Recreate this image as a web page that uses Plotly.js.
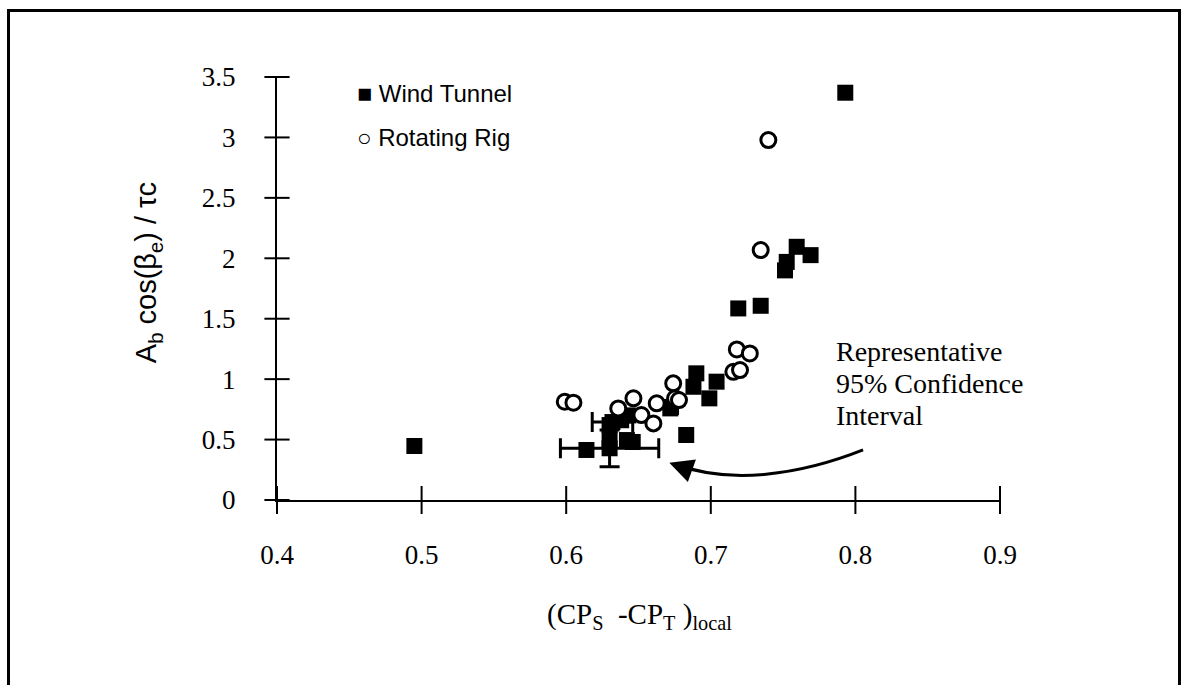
<!DOCTYPE html>
<html><head><meta charset="utf-8">
<script src="https://cdn.plot.ly/plotly-3.0.1.min.js"></script>
<style>
html,body{margin:0;padding:0;background:#fff;}
#wrap{position:relative;width:1186px;height:685px;}
#chart{width:1186px;height:685px;}
#frame{position:absolute;left:7px;top:9px;width:1168px;height:700px;border-left:3px solid #000;border-top:3px solid #000;border-right:3px solid #000;pointer-events:none;}
</style></head>
<body><div id="wrap"><div id="chart"></div><div id="frame"></div></div>
<script>
// Wind Tunnel series
const windX = [0.495, 0.614, 0.630, 0.630, 0.638, 0.643, 0.642, 0.646, 0.672, 0.6725, 0.683, 0.688, 0.690, 0.699, 0.704, 0.719, 0.7345, 0.7513, 0.7525, 0.7594, 0.769, 0.793];
const windY = [0.447, 0.414, 0.620, 0.500, 0.660, 0.700, 0.496, 0.480, 0.758, 0.770, 0.538, 0.937, 1.048, 0.841, 0.979, 1.585, 1.607, 1.900, 1.970, 2.095, 2.026, 3.370];
// Rotating Rig series
const rigX = [0.599, 0.605, 0.636, 0.6465, 0.652, 0.6603, 0.6626, 0.674, 0.6753, 0.678, 0.7156, 0.7202, 0.718, 0.727, 0.7345, 0.7398];
const rigY = [0.813, 0.805, 0.758, 0.841, 0.703, 0.634, 0.800, 0.965, 0.841, 0.827, 1.061, 1.075, 1.246, 1.213, 2.068, 2.978];
// Representative 95% confidence interval points
const ciX = [0.630, 0.632];
const ciY = [0.428, 0.645];
const ciErrX = [0.034, 0.014];
const ciErrY = [0.152, 0];
// Axis ticks
const xTicks = [0.4, 0.5, 0.6, 0.7, 0.8, 0.9];
const xTickText = ['0.4', '0.5', '0.6', '0.7', '0.8', '0.9'];
const yTicks = [0, 0.5, 1, 1.5, 2, 2.5, 3, 3.5];
const yTickText = ['0', '0.5', '1', '1.5', '2', '2.5', '3', '3.5'];

const serif = 'Liberation Serif, Times New Roman, serif';
const sans = 'Liberation Sans, Arial, sans-serif';
const xMin = xTicks[0], yMin = yTicks[0];

const traces = [
  // crossing tick marks on both axes, placed at the tick values
  {x: xTicks, y: xTicks.map(() => yMin), type: 'scatter', mode: 'markers', cliponaxis: false,
   marker: {symbol: 'line-ns', size: 20, line: {color: '#000', width: 2}}, showlegend: false, hoverinfo: 'skip'},
  {x: yTicks.map(() => xMin), y: yTicks, type: 'scatter', mode: 'markers', cliponaxis: false,
   marker: {symbol: 'line-ew', size: 18, line: {color: '#000', width: 2}}, showlegend: false, hoverinfo: 'skip'},
  {x: ciX, y: ciY, type: 'scatter', mode: 'markers', cliponaxis: false,
   marker: {symbol: 'square', size: 16, color: '#000'},
   error_x: {type: 'data', array: ciErrX, visible: true, color: '#000', thickness: 3, width: 10},
   error_y: {type: 'data', array: ciErrY, visible: true, color: '#000', thickness: 3, width: 10},
   showlegend: false, hoverinfo: 'skip'},
  {x: windX, y: windY, type: 'scatter', mode: 'markers', name: 'Wind Tunnel', cliponaxis: false,
   marker: {symbol: 'square', size: 16, color: '#000'}, showlegend: false},
  {x: rigX, y: rigY, type: 'scatter', mode: 'markers', name: 'Rotating Rig', cliponaxis: false,
   marker: {symbol: 'circle', size: 15, color: '#fff', line: {color: '#000', width: 3}}, showlegend: false}
];

const axBase = {showgrid: false, zeroline: false, color: '#000'};
const layout = {
  width: 1186, height: 685,
  margin: {l: 277, r: 186, t: 77, b: 185},
  paper_bgcolor: '#fff', plot_bgcolor: '#fff',
  showlegend: false,
  xaxis: Object.assign({}, axBase, {range: [0.4, 0.9], tickmode: 'array', tickvals: xTicks, ticktext: xTickText,
    ticks: '', showline: true, linewidth: 2, linecolor: '#000',
    tickfont: {family: serif, size: 27, color: '#000'}, ticklabelstandoff: 30}),
  yaxis: Object.assign({}, axBase, {range: [0, 3.5], tickmode: 'array', tickvals: yTicks, ticktext: yTickText,
    ticks: '', showline: true, linewidth: 2, linecolor: '#000',
    tickfont: {family: serif, size: 27, color: '#000'}, ticklabelstandoff: 34}),
  shapes: [
    {type: 'path', xref: 'x', yref: 'y', path: 'M 0.8053,0.414 C 0.7617,0.207 0.7133,0.124 0.6752,0.298',
     line: {color: '#000', width: 3}}
  ],
  annotations: [
    {xref: 'x', yref: 'y', x: 0.6713, y: 0.309, ax: 14, ay: 5, text: '', showarrow: true,
     arrowhead: 2, arrowsize: 1.6, arrowwidth: 3, arrowcolor: '#000', standoff: 0},
    {xref: 'paper', yref: 'paper', x: 0.770, y: (500 - 351) / 423, xanchor: 'left', yanchor: 'middle', align: 'left', showarrow: false,
     text: 'Representative', font: {family: serif, size: 28, color: '#000'}},
    {xref: 'paper', yref: 'paper', x: 0.770, y: (500 - 383) / 423, xanchor: 'left', yanchor: 'middle', align: 'left', showarrow: false,
     text: '95% Confidence', font: {family: serif, size: 28, color: '#000'}},
    {xref: 'paper', yref: 'paper', x: 0.770, y: (500 - 415) / 423, xanchor: 'left', yanchor: 'middle', align: 'left', showarrow: false,
     text: 'Interval', font: {family: serif, size: 28, color: '#000'}},
    {xref: 'paper', yref: 'paper', x: 0.108, y: 0.962, xanchor: 'left', yanchor: 'middle', showarrow: false,
     text: '<span style="font-size:25px">■</span> Wind Tunnel', font: {family: sans, size: 24, color: '#000'}},
    {xref: 'paper', yref: 'paper', x: 0.108, y: 0.856, xanchor: 'left', yanchor: 'middle', showarrow: false,
     text: '<span style="font-size:24px"><b>○</b></span> Rotating Rig', font: {family: sans, size: 24, color: '#000'}},
    {xref: 'paper', yref: 'paper', x: -0.178, y: 0.537, xanchor: 'center', yanchor: 'middle', textangle: -90, showarrow: false,
     text: 'A<sub>b</sub> cos(β<sub>e</sub>) / τc', font: {family: sans, size: 29, color: '#000'}},
    {xref: 'paper', yref: 'paper', x: 0.502, y: -0.275, xanchor: 'center', yanchor: 'middle', showarrow: false,
     text: '(CP<sub>S</sub>  -CP<sub>T</sub> )<sub>local</sub>', font: {family: serif, size: 29, color: '#000'}}
  ]
};
Plotly.newPlot('chart', traces, layout, {displayModeBar: false, staticPlot: true});
</script></body></html>
